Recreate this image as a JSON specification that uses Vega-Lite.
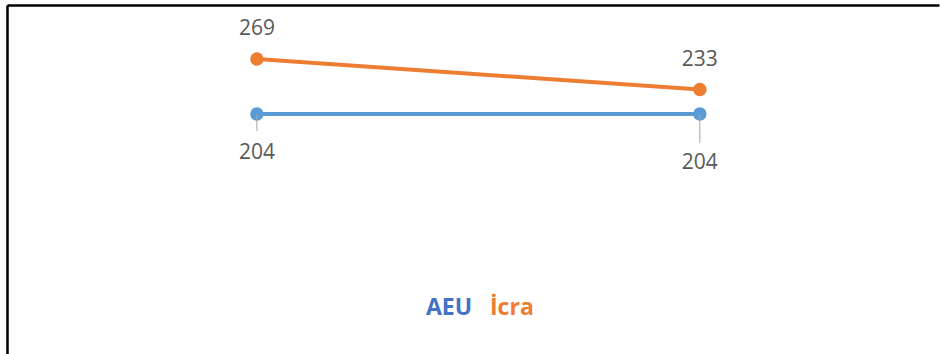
{
  "$schema": "https://vega.github.io/schema/vega-lite/v6.json",
  "width": 932,
  "height": 349,
  "autosize": {"type": "none"},
  "padding": {"left": 7, "top": 5, "right": 2, "bottom": 0},
  "background": "white",
  "config": {
    "view": {"stroke": null},
    "font": "Open Sans"
  },
  "data": {
    "values": [
      {"period": "Dönem 1", "series": "AEU", "value": 204},
      {"period": "Dönem 2", "series": "AEU", "value": 204},
      {"period": "Dönem 1", "series": "İcra", "value": 269},
      {"period": "Dönem 2", "series": "İcra", "value": 233}
    ]
  },
  "encoding": {
    "x": {
      "field": "period",
      "type": "ordinal",
      "scale": {"type": "point", "padding": 0.552, "align": 0.511},
      "axis": {"orient": "top", "labels": false, "ticks": false, "grid": false, "title": null, "domainColor": "#000000", "domainWidth": 2.5}
    },
    "y": {
      "field": "value",
      "type": "quantitative",
      "scale": {"domain": [-80, 333], "nice": false, "zero": false},
      "axis": {"orient": "left", "labels": false, "ticks": false, "grid": false, "title": null, "domainColor": "#000000", "domainWidth": 2.5}
    },
    "color": {
      "field": "series",
      "type": "nominal",
      "scale": {"domain": ["AEU", "İcra"], "range": ["#5B9BD5", "#ED7D31"]},
      "legend": {
        "orient": "none",
        "legendX": 419,
        "legendY": 291,
        "direction": "horizontal",
        "title": null,
        "padding": 0,
        "symbolSize": 0,
        "symbolStrokeWidth": 0,
        "symbolOpacity": 0,
        "labelOffset": -23,
        "columnPadding": 17,
        "labelFont": "Open Sans",
        "labelFontWeight": "bold",
        "labelFontSize": 23,
        "labelColor": {"expr": "datum.label == 'AEU' ? '#4472C4' : '#ED7D31'"}
      }
    }
  },
  "layer": [
    {"mark": {"type": "line", "strokeWidth": 4}},
    {"mark": {"type": "point", "filled": true, "size": 180, "opacity": 1}},
    {
      "transform": [{"filter": "datum.series == 'AEU' && datum.period == 'Dönem 1'"}],
      "mark": {"type": "rule", "y2Offset": 17, "color": "#A6A6A6", "strokeWidth": 1},
      "encoding": {"y2": {"field": "value"}, "color": {"value": "#A6A6A6"}}
    },
    {
      "transform": [{"filter": "datum.series == 'AEU' && datum.period == 'Dönem 2'"}],
      "mark": {"type": "rule", "y2Offset": 29, "color": "#A6A6A6", "strokeWidth": 1},
      "encoding": {"y2": {"field": "value"}, "color": {"value": "#A6A6A6"}}
    },
    {
      "transform": [{"filter": "datum.series == 'İcra'"}],
      "mark": {"type": "text", "dy": -30, "fontSize": 21, "baseline": "middle", "align": "center", "font": "Open Sans"},
      "encoding": {"text": {"field": "value"}, "color": {"value": "#595959"}}
    },
    {
      "transform": [{"filter": "datum.series == 'AEU' && datum.period == 'Dönem 1'"}],
      "mark": {"type": "text", "dy": 39, "fontSize": 21, "baseline": "middle", "align": "center", "font": "Open Sans"},
      "encoding": {"text": {"field": "value"}, "color": {"value": "#595959"}}
    },
    {
      "transform": [{"filter": "datum.series == 'AEU' && datum.period == 'Dönem 2'"}],
      "mark": {"type": "text", "dy": 49, "fontSize": 21, "baseline": "middle", "align": "center", "font": "Open Sans"},
      "encoding": {"text": {"field": "value"}, "color": {"value": "#595959"}}
    }
  ]
}
